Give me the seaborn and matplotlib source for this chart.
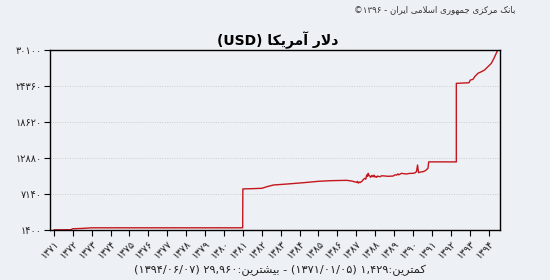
import re
import matplotlib
matplotlib.use("Agg")
import matplotlib.pyplot as plt
import seaborn as sns
import pandas as pd

# ---------------- data ----------------
years = [1371.01, 1371.90, 1372.00, 1372.50, 1373.00, 1380.99,
         1381.00, 1381.50, 1382.01, 1382.27, 1382.62, 1383.33, 1384.20,
         1384.99, 1385.61, 1386.20, 1386.49, 1386.75, 1387.02, 1387.06,
         1387.10, 1387.15, 1387.20, 1387.25, 1387.30, 1387.37, 1387.45,
         1387.50, 1387.55, 1387.60, 1387.63, 1387.67, 1387.70, 1387.76,
         1387.80, 1387.83, 1387.89, 1387.94, 1387.98, 1388.03, 1388.07,
         1388.12, 1388.16, 1388.25, 1388.35, 1388.51, 1388.70, 1388.95,
         1389.05, 1389.13, 1389.20, 1389.25, 1389.39, 1389.50, 1389.66,
         1389.80, 1390.00, 1390.10, 1390.18, 1390.24, 1390.29, 1390.40,
         1390.53, 1390.65, 1390.79, 1390.83, 1392.29, 1392.29,
         1392.96, 1393.03, 1393.17, 1393.26, 1393.43, 1393.61, 1393.78,
         1393.96, 1394.14, 1394.28, 1394.40, 1394.46]
usd_rate = [1429, 1440, 1600, 1650, 1750, 1750,
            7950, 7990, 8050, 8300, 8575, 8730, 8940,
            9160, 9260, 9300, 9320, 9210, 9000, 9150,
            8880, 9050, 8950, 9100, 9150, 9450, 9640,
            9500, 10170, 9950, 10440, 10100, 10050, 9800,
            10000, 10100, 9900, 10150, 9850, 9950, 9800,
            10000, 9950, 9900, 10050, 10010, 9960, 10010,
            10200, 10150, 10350, 10200, 10440, 10380, 10330,
            10420, 10440, 10500, 10700, 11760, 10540, 10650,
            10700, 10850, 11240, 12260, 12260, 24780,
            24880, 25310, 25420, 25840, 26380, 26630, 26900,
            27430, 27970, 28770, 29570, 29960]

year_ticks = list(range(1371, 1395))
value_ticks = [1400, 7140, 12880, 18620, 24360, 30100]

title_text = "دلار آمریکا (USD)"
header_text = "بانک مرکزی جمهوری اسلامی ایران - ۱۳۹۶©"
footer_text = "کمترین:۱,۴۲۹ (۱۳۷۱/۰۱/۰۵) - بیشترین:۲۹,۹۶۰ (۱۳۹۴/۰۶/۰۷)"

# ---------------- minimal Persian shaping + visual ordering ----------------
FORMS = {
    'ا': ('\uFE8D', '\uFE8E', None, None),
    'آ': ('\uFE81', '\uFE82', None, None),
    'ب': ('\uFE8F', '\uFE90', '\uFE91', '\uFE92'),
    'ت': ('\uFE95', '\uFE96', '\uFE97', '\uFE98'),
    'ج': ('\uFE9D', '\uFE9E', '\uFE9F', '\uFEA0'),
    'د': ('\uFEA9', '\uFEAA', None, None),
    'ر': ('\uFEAD', '\uFEAE', None, None),
    'ز': ('\uFEAF', '\uFEB0', None, None),
    'س': ('\uFEB1', '\uFEB2', '\uFEB3', '\uFEB4'),
    'ش': ('\uFEB5', '\uFEB6', '\uFEB7', '\uFEB8'),
    'ل': ('\uFEDD', '\uFEDE', '\uFEDF', '\uFEE0'),
    'م': ('\uFEE1', '\uFEE2', '\uFEE3', '\uFEE4'),
    'ن': ('\uFEE5', '\uFEE6', '\uFEE7', '\uFEE8'),
    'ه': ('\uFEE9', '\uFEEA', '\uFEEB', '\uFEEC'),
    'و': ('\uFEED', '\uFEEE', None, None),
    'ی': ('\uFBFC', '\uFBFD', '\uFBFE', '\uFBFF'),
    'ک': ('\uFB8E', '\uFB8F', '\uFB90', '\uFB91'),
}


def dual(c):
    return c in FORMS and FORMS[c][2] is not None


def shape(s):
    out = []
    i = 0
    n = len(s)
    while i < n:
        c = s[i]
        if c not in FORMS:
            out.append(c)
            i += 1
            continue
        prev = s[i - 1] if i > 0 else ''
        join_prev = dual(prev)
        if c == 'ل' and i + 1 < n and s[i + 1] == 'ا':
            out.append('\uFEFC' if join_prev else '\uFEFB')
            i += 2
            continue
        nxt = s[i + 1] if i + 1 < n else ''
        join_next = dual(c) and nxt in FORMS
        iso, fin, ini, med = FORMS[c]
        if join_prev and join_next:
            out.append(med)
        elif join_prev:
            out.append(fin)
        elif join_next:
            out.append(ini)
        else:
            out.append(iso)
        i += 1
    return ''.join(out)


LTR_RUN = re.compile(r'[0-9A-Za-z\u06F0-\u06F9]+(?:[,/.][0-9A-Za-z\u06F0-\u06F9]+)*')
MIRROR = {'(': ')', ')': '('}


def visual(s):
    tokens = []
    pos = 0
    for m in LTR_RUN.finditer(s):
        if m.start() > pos:
            tokens.append(('R', s[pos:m.start()]))
        tokens.append(('L', m.group()))
        pos = m.end()
    if pos < len(s):
        tokens.append(('R', s[pos:]))
    res = []
    for kind, t in reversed(tokens):
        if kind == 'L':
            res.append(t)
        else:
            res.append(''.join(MIRROR.get(ch, ch) for ch in reversed(shape(t))))
    return ''.join(res)


FA = str.maketrans('0123456789', '۰۱۲۳۴۵۶۷۸۹')


def fa(v):
    return str(v).translate(FA)


# ---------------- plot ----------------
bg = '#edf0f4'
sns.set_theme(style='white')
plt.rcParams['font.family'] = ['DejaVu Sans']

fig = plt.figure(figsize=(5.5, 2.8), dpi=100, facecolor=bg)
ax = fig.add_axes([50 / 550, 1 - 230 / 280, 450 / 550, 180 / 280])
ax.set_facecolor(bg)

df = pd.DataFrame({'year': years, 'rate': usd_rate})
sns.lineplot(data=df, x='year', y='rate', ax=ax, estimator=None, sort=False,
             color='#c4161c', linewidth=1.0)

ax.set_xlim(1370.8, 1394.6)
ax.set_ylim(value_ticks[0], value_ticks[-1])
ax.set_xticks(year_ticks)
ax.set_xticklabels([fa(y) for y in year_ticks], rotation=45, ha='right',
                   rotation_mode='anchor', fontsize=7, color='#222222')
ax.set_yticks(value_ticks)
ax.set_yticklabels([fa(v) for v in value_ticks], fontsize=7, color='#222222')
ax.tick_params(axis='both', direction='out', length=4, width=0.8, color='black',
               bottom=True, left=True, pad=2)
ax.set_xlabel('')
ax.set_ylabel('')
ax.yaxis.grid(True, linestyle=(0, (1, 1.5)), color='#cccccc', linewidth=0.7)
ax.xaxis.grid(False)
for sp in ax.spines.values():
    sp.set_visible(True)
    sp.set_color('black')
    sp.set_linewidth(1.0)

fig.text(278 / 550, 1 - 40 / 280, visual(title_text), ha='center', va='center',
         fontsize=10, fontweight='bold', color='black')
fig.text(515 / 550, 1 - 10 / 280, visual(header_text), ha='right', va='center',
         fontsize=6.2, color='#333333')
fig.text(280 / 550, 1 - 270 / 280, visual(footer_text), ha='center', va='center',
         fontsize=8.2, color='#222222')

fig.savefig('out.png', dpi=100, facecolor=bg)
